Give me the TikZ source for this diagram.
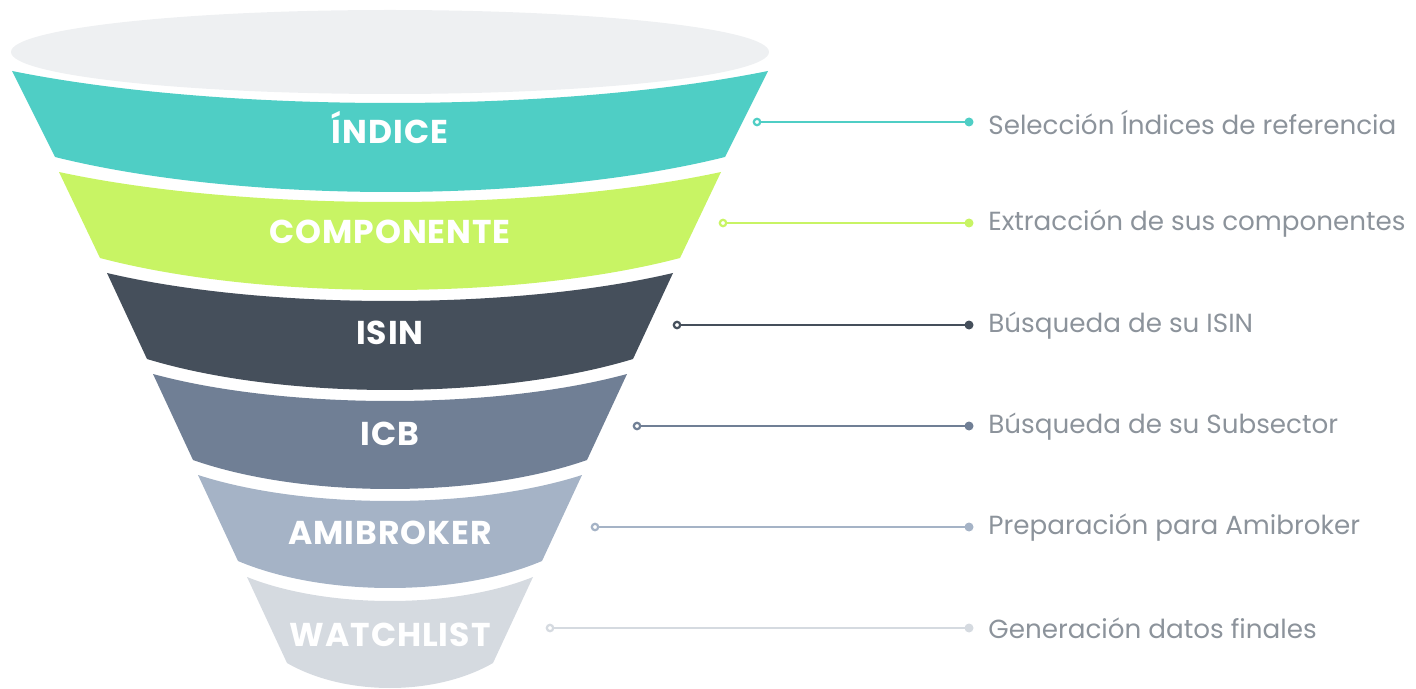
\documentclass[tikz,border=0pt]{standalone}
\usepackage{fontspec}
\setmainfont{Poppins}
\definecolor{cTeal}{HTML}{4FCEC5}
\definecolor{cGreen}{HTML}{C8F464}
\definecolor{cDark}{HTML}{454F5B}
\definecolor{cSlate}{HTML}{707F95}
\definecolor{cLslate}{HTML}{A5B3C6}
\definecolor{cLgray}{HTML}{D5DAE0}
\definecolor{cTop}{HTML}{EEF0F2}
\definecolor{cText}{HTML}{8C939B}
\newcommand\funnelband[7]{%
  \fill[#1] ({390-#3},#2) .. controls ({390-0.44*#3},{#2+1.333*#4}) and ({390+0.44*#3},{#2+1.333*#4}) .. ({390+#3},#2)
    -- ({390+#6},#5) .. controls ({390+0.44*#6},{#5+1.333*#7}) and ({390-0.44*#6},{#5+1.333*#7}) .. ({390-#6},#5) -- cycle;}
\tikzset{
  bandlabel/.style={text=white,font=\fontsize{16.5}{18}\selectfont\bfseries\addfontfeatures{LetterSpace=3},anchor=base,inner sep=0pt},
  steplabel/.style={text=cText,font=\fontsize{13.1}{15}\selectfont,anchor=west,inner sep=0pt},
  conn/.style={line width=1.1pt},
  opendot/.style={fill=white,line width=1.1pt},
}
\begin{document}
\begin{tikzpicture}[x=0.5pt,y=-0.5pt]
\useasboundingbox (0,0) rectangle (1416,689);
\fill[cTop] (390,52) ellipse [x radius=379, y radius=42];
\funnelband{cTeal}{71}{378}{32}{157}{335}{35}
\funnelband{cGreen}{172}{331}{30}{258}{290}{32}
\funnelband{cDark}{273}{283}{28}{359}{243}{31}
\funnelband{cSlate}{374}{237}{27}{460}{197}{29}
\funnelband{cLslate}{475}{192}{26}{561}{152}{27}
\funnelband{cLgray}{577}{143}{24}{663}{103}{25}

\node[bandlabel] (b1) at (390,144) {ÍNDICE};
\node[bandlabel] (b2) at (390,244) {COMPONENTE};
\node[bandlabel] (b3) at (390,344) {ISIN};
\node[bandlabel] (b4) at (390,445) {ICB};
\node[bandlabel] (b5) at (390,544) {AMIBROKER};
\node[bandlabel] (b6) at (390,646) {WATCHLIST};

\coordinate (s1) at (757,122); \coordinate (e1) at (969,122);
\coordinate (s2) at (723,223); \coordinate (e2) at (969,223);
\coordinate (s3) at (677,325); \coordinate (e3) at (969,325);
\coordinate (s4) at (637,426); \coordinate (e4) at (969,426);
\coordinate (s5) at (595,527); \coordinate (e5) at (969,527);
\coordinate (s6) at (550,628); \coordinate (e6) at (969,628);

\foreach \i/\c in {1/cTeal,2/cGreen,3/cDark,4/cSlate,5/cLslate,6/cLgray}{
  \draw[conn,\c] (s\i) -- (e\i);
  \fill[\c] (e\i) circle[radius=4.5];
  \draw[opendot,draw=\c] (s\i) circle[radius=3.2];
}

\node[steplabel] (l1) at (988,122.5) {Selección Índices de referencia};
\node[steplabel] (l2) at (988,223.5) {Extracción de sus componentes};
\node[steplabel] (l3) at (988,325.5) {Búsqueda de su ISIN};
\node[steplabel] (l4) at (988,426.5) {Búsqueda de su Subsector};
\node[steplabel] (l5) at (988,527.5) {Preparación para Amibroker};
\node[steplabel] (l6) at (988,628.5) {Generación datos finales};
\end{tikzpicture}
\end{document}
